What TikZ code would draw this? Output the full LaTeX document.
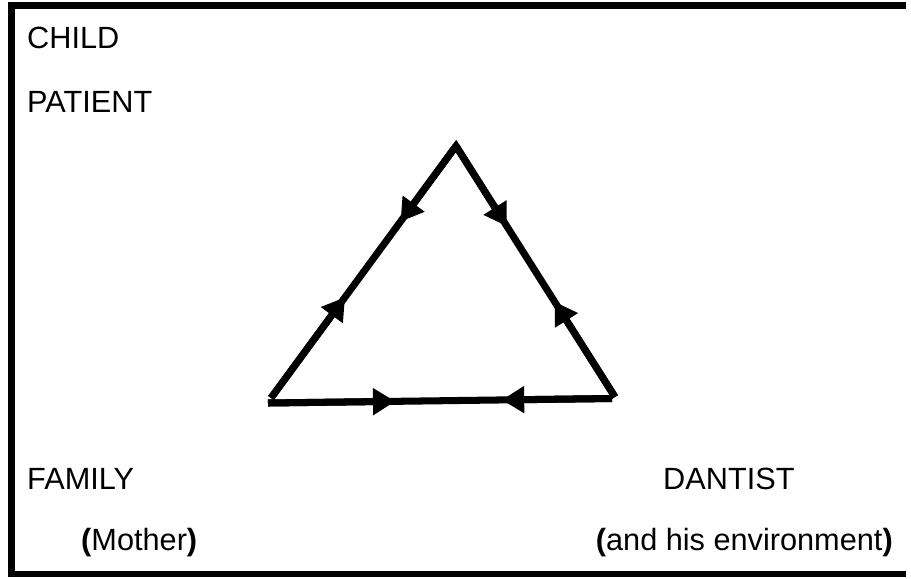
\documentclass[tikz,border=0pt]{standalone}
\usepackage{fontspec}
\setmainfont{Liberation Sans}
\usetikzlibrary{arrows.meta, calc}

\begin{document}
\begin{tikzpicture}[
    x=0.03cm, y=-0.03cm,
    >={Triangle[length=19pt, width=22pt]},
    lbl/.style={font=\fontsize{26.2}{30}\selectfont, inner sep=0pt},
    edge/.style={line width=6pt},
    arr/.style={->, line width=6pt},
    frame/.style={line width=5.5pt},
]
\useasboundingbox (0,0) rectangle (911,578);
% === Frame (open on the right) ===
\draw[frame] (906,5.5) -- (11.5,5.5) -- (11.5,574) -- (906,574);
% === Labels ===
\node[lbl, anchor=base west] (child) at (27,48) {CHILD};
\node[lbl, anchor=base west] (patient) at (27,112) {PATIENT};
\node[lbl, anchor=base west] (family) at (27,489) {FAMILY};
\node[lbl, anchor=base west] (mother) at (81,550) {\textbf{(}Mother\textbf{)}};
\node[lbl, anchor=base west] (dantist) at (663,489) {DANTIST};
\node[lbl, anchor=base east] (env) at (893,550) {\textbf{(}and his environment\textbf{)}};
% === Triangle ===
\coordinate (apex) at (456,146);
\coordinate (famv) at (271,398);
\coordinate (dentv) at (615,397);
\coordinate (famb) at (268,403);
\coordinate (dentb) at (612,398.5);
\draw[edge] (famv) -- (apex) -- (dentv);
\draw[edge] (famb) -- (dentb);
% arrows, two per side, meeting in the middle
\draw[arr] (apex) -- ($(apex)!0.3!(famv)$);
\draw[arr] (famv) -- ($(famv)!0.4!(apex)$);
\draw[arr] (apex) -- ($(apex)!0.32!(dentv)$);
\draw[arr] (dentv) -- ($(dentv)!0.38!(apex)$);
\draw[arr] (famb) -- ($(famb)!0.37!(dentb)$);
\draw[arr] (dentb) -- ($(dentb)!0.32!(famb)$);
\end{tikzpicture}
\end{document}
